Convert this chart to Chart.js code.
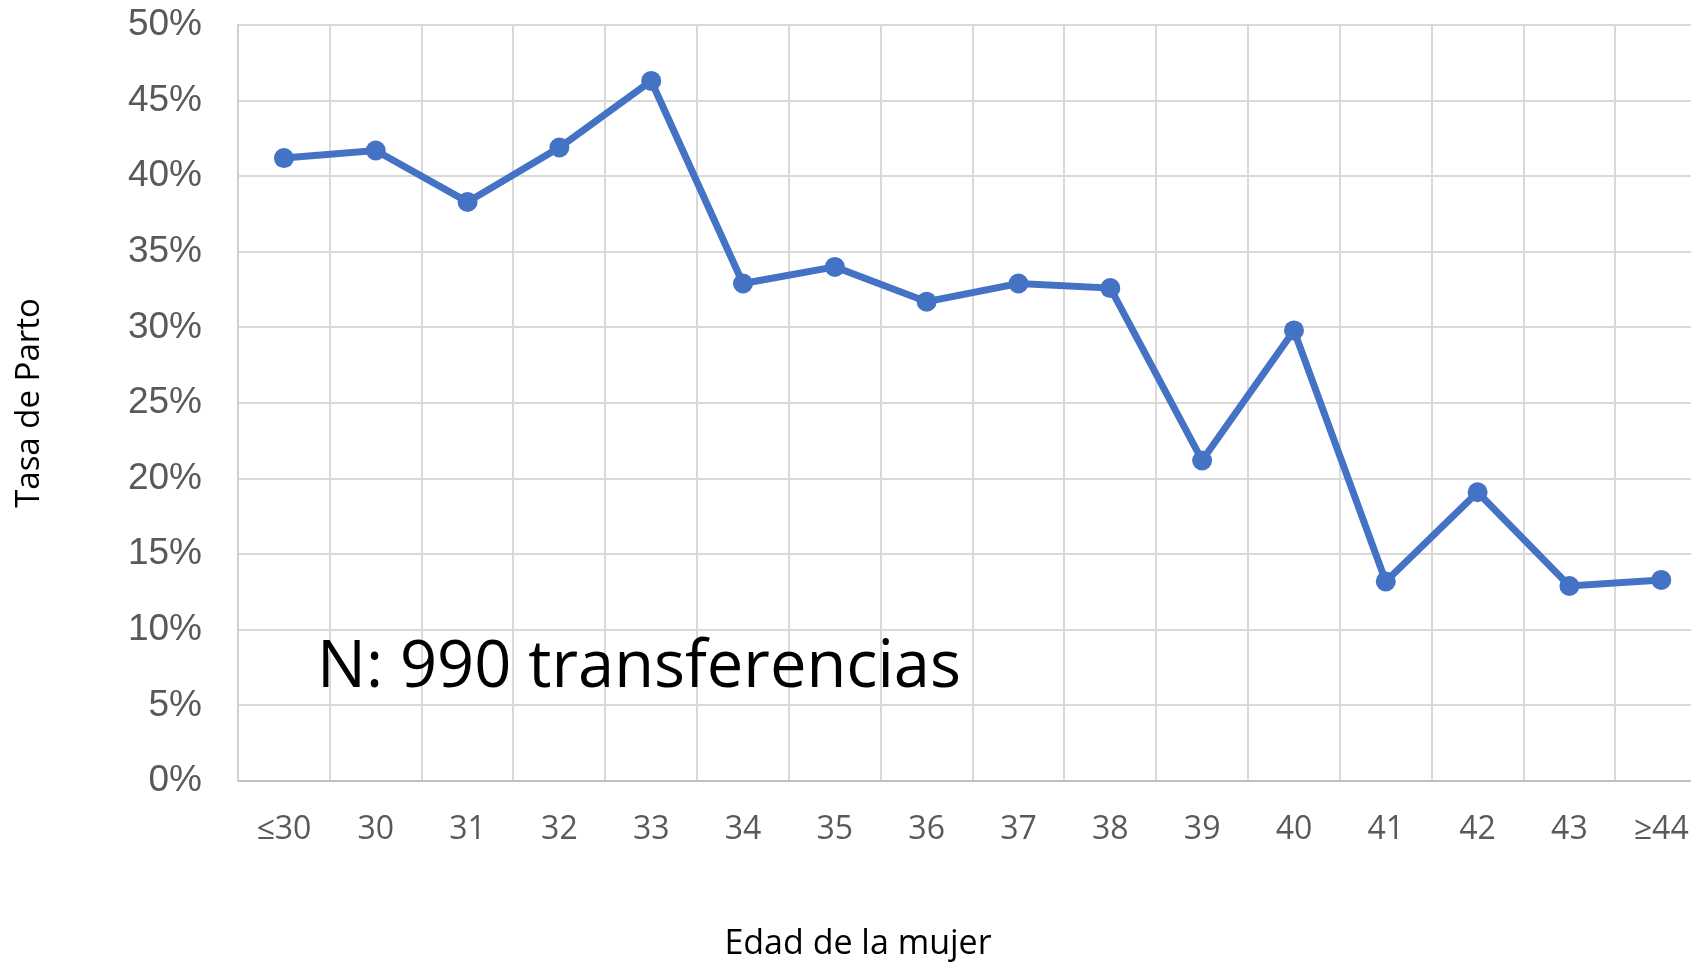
<!DOCTYPE html>
<html lang="es">
<head>
    <meta charset="UTF-8">
    <title>Tasa de Parto por edad</title>
    <script src="https://cdn.jsdelivr.net/npm/chart.js"></script>
    <style>
        html, body { margin: 0; padding: 0; background: #fff; overflow: hidden; }
        #wrap { width: 1691px; height: 965px; overflow: hidden; }
    </style>
</head>
<body>
    <div id="wrap">
        <canvas id="myChart" width="1719" height="965"></canvas>
    </div>

    <script>
        // Datos
        const edades = ['≤30', '30', '31', '32', '33', '34', '35', '36', '37', '38', '39', '40', '41', '42', '43', '≥44'];
        const tasaParto = [41.2, 41.7, 38.3, 41.9, 46.3, 32.9, 34.0, 31.7, 32.9, 32.6, 21.2, 29.8, 13.2, 19.1, 12.9, 13.3];
        const notaTexto = 'N: 990 transferencias';
        const tituloX = 'Edad de la mujer';
        const tituloY = 'Tasa de Parto';

        // texto de la nota y titulo del eje x
        const textosExtra = {
            id: 'textosExtra',
            afterDraw(chart) {
                const ctx = chart.ctx;
                const area = chart.chartArea;
                const y = chart.scales.y;
                ctx.save();
                ctx.fillStyle = '#000';
                ctx.textBaseline = 'alphabetic';
                ctx.textAlign = 'left';
                ctx.font = '65px "Open Sans"';
                ctx.fillText(notaTexto, area.left + 79, y.getPixelForValue(6.2));
                ctx.textAlign = 'center';
                ctx.textBaseline = 'middle';
                ctx.font = '34px "Open Sans"';
                ctx.fillText(tituloX, area.left + (area.right - area.left) * 0.422, 944);
                ctx.restore();
            }
        };

        const ctx = document.getElementById('myChart').getContext('2d');
        const myChart = new Chart(ctx, {
            type: 'line',
            data: {
                labels: edades,
                datasets: [{
                    label: tituloY,
                    data: tasaParto,
                    borderColor: '#4472C4',
                    backgroundColor: '#4472C4',
                    borderWidth: 7,
                    pointRadius: 10,
                    pointBorderWidth: 0,
                    tension: 0
                }]
            },
            options: {
                responsive: false,
                animation: false,
                devicePixelRatio: 1,
                layout: { padding: { top: 25, right: 10, left: 0, bottom: 0 } },
                plugins: {
                    legend: { display: false },
                    tooltip: { enabled: false }
                },
                scales: {
                    x: {
                        offset: true,
                        grid: { offset: true, color: '#d9d9d9', lineWidth: 2, drawTicks: false },
                        border: { color: '#bfbfbf', width: 2 },
                        ticks: {
                            color: '#595959',
                            font: { family: 'Open Sans', size: 32 },
                            padding: 30,
                            maxRotation: 0,
                            autoSkip: false
                        },
                        afterFit: (s) => { s.height = 184; }
                    },
                    y: {
                        min: 0,
                        max: 50,
                        ticks: {
                            stepSize: 5,
                            color: '#595959',
                            font: { family: 'Liberation Sans', size: 37 },
                            padding: 0,
                            callback: (v) => v + '%'
                        },
                        // marcas invisibles como separacion entre etiquetas y eje
                        grid: { color: '#d9d9d9', lineWidth: 2, drawTicks: true, tickLength: 36, tickColor: 'rgba(0,0,0,0)' },
                        border: { color: '#d0d0d0', width: 2 },
                        title: {
                            display: true,
                            text: tituloY,
                            color: '#000',
                            font: { family: 'Open Sans', size: 33 },
                            padding: { top: 10, bottom: 0 }
                        },
                        afterFit: (s) => { s.width = 238; }
                    }
                }
            },
            plugins: [textosExtra]
        });
    </script>
</body>
</html>
